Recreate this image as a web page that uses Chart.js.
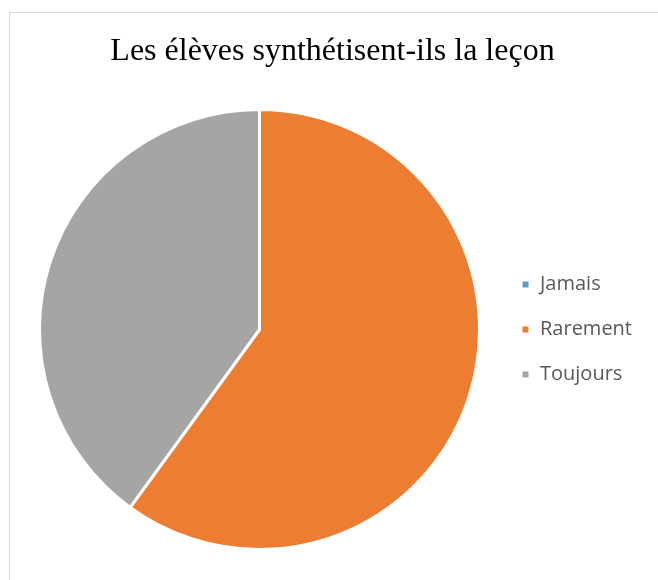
<!DOCTYPE html>
<html>
<head>
<meta charset="utf-8">
<script src="https://cdn.jsdelivr.net/npm/chart.js@4.4.1/dist/chart.umd.min.js"></script>
<style>
    body { margin: 0; background: #ffffff; overflow: hidden; }
    #cadre { position: absolute; left: 9px; top: 12px; width: 700px; height: 600px;
             border-left: 1px solid #d9d9d9; border-top: 1px solid #d9d9d9; }
    #zone { position: absolute; left: 0; top: 0; width: 658px; height: 580px; }
</style>
</head>
<body>
<div id="cadre"></div>
<div id="zone"><canvas id="graficoSynthese"></canvas></div>
<script>
const titre = "Les élèves synthétisent-ils la leçon";
const categories = ["Jamais", "Rarement", "Toujours"];
const valeurs = [0, 60, 40];
const couleurs = ["#5B9BD5", "#ED7D31", "#A5A5A5"];

const ctx = document.getElementById("graficoSynthese").getContext("2d");

new Chart(ctx, {
    type: "pie",
    data: {
        labels: categories,
        datasets: [{
            data: valeurs,
            backgroundColor: couleurs,
            borderColor: "#ffffff",
            borderWidth: 3
        }]
    },
    options: {
        responsive: true,
        maintainAspectRatio: false,
        animation: false,
        layout: {
            padding: { top: 12, bottom: 29, left: 23, right: 16 }
        },
        plugins: {
            title: {
                display: true,
                text: titre,
                color: "#000000",
                font: { family: "'Liberation Serif', 'DejaVu Serif', serif", size: 32, weight: "normal" },
                padding: { top: 20, bottom: 37.6 }
            },
            legend: {
                position: "right",
                fullSize: false,
                labels: {
                    color: "#595959",
                    boxWidth: 9,
                    boxHeight: 9,
                    padding: 25,
                    font: { family: "'Open Sans', sans-serif", size: 20 }
                }
            },
            tooltip: { enabled: false }
        }
    }
});
</script>
</body>
</html>
